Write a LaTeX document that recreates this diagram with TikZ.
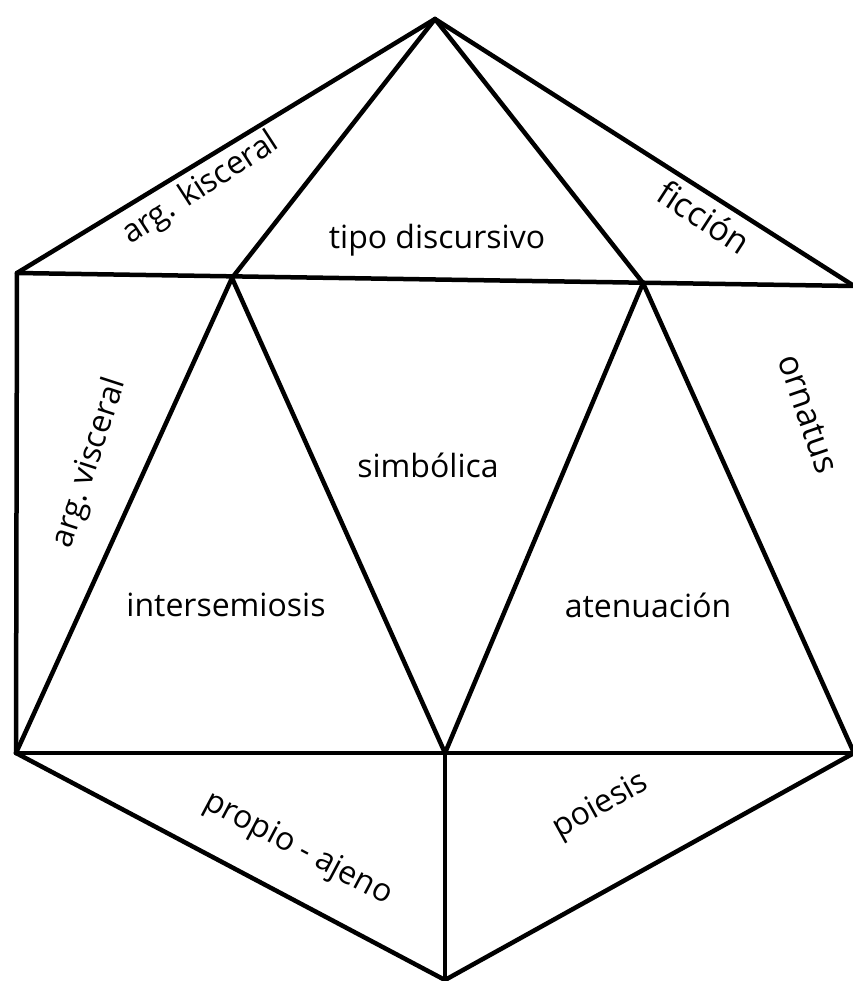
\documentclass[tikz,border=0pt]{standalone}
\usepackage{fontspec}
\setmainfont{Open Sans}
\begin{document}
\begin{tikzpicture}[x=1pt,y=-1pt,
  edge/.style={line width=4.5pt,line cap=round,line join=round,black},
  lbl/.style={font=\fontsize{32}{35}\selectfont,inner sep=0pt},
  biglbl/.style={font=\fontsize{34}{37}\selectfont,inner sep=0pt}]
\useasboundingbox (0,0) rectangle (852,981);
\coordinate (T) at (435,19);
\coordinate (LU) at (17,273);
\coordinate (IL) at (232,278);
\coordinate (IR) at (643,283);
\coordinate (RU) at (854,286);
\coordinate (LL) at (16,753);
\coordinate (MB) at (445,753);
\coordinate (RL) at (854,753);
\coordinate (B) at (445,980);
\draw[edge] (T) -- (LU);
\draw[edge] (T) -- (IL);
\draw[edge] (T) -- (IR);
\draw[edge] (T) -- (RU);
\draw[edge] (LU) -- (RU);
\draw[edge] (LU) -- (LL);
\draw[edge] (IL) -- (LL);
\draw[edge] (IL) -- (MB);
\draw[edge] (IR) -- (MB);
\draw[edge] (IR) -- (RL);
\draw[edge] (LL) -- (RL);
\draw[edge] (LL) -- (B);
\draw[edge] (MB) -- (B);
\draw[edge] (B) -- (RL);
\node[lbl,rotate=33] (kisc) at (201,189) {arg. kisceral};
\node[lbl] (tipo) at (437,240) {tipo discursivo};
\node[biglbl,rotate=-33] (ficc) at (704,217) {ficción};
\node[lbl,rotate=72] (visc) at (90,463) {arg.\ visceral};
\node[lbl] (simb) at (428,465) {simbólica};
\node[lbl] (inter) at (226,605) {intersemiosis};
\node[lbl] (aten) at (648,605) {atenuación};
\node[biglbl,rotate=-71] (orn) at (808,414) {ornatus};
\node[lbl,rotate=-28] (prop) at (298,849) {propio - ajeno};
\node[lbl,rotate=29] (poie) at (601,806) {poiesis};
\end{tikzpicture}
\end{document}
